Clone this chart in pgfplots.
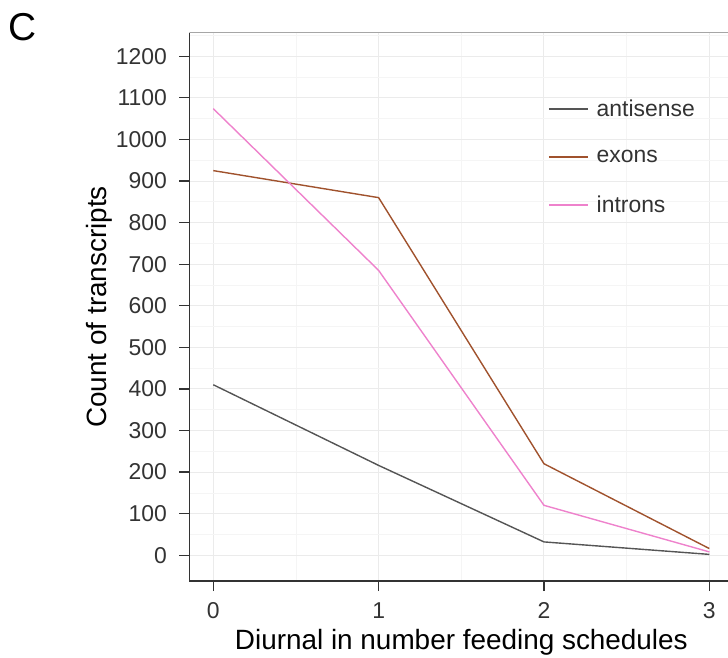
\documentclass[border=0pt]{standalone}
\usepackage{fontspec}
\setmainfont{Liberation Sans}
\usepackage{pgfplots}
\pgfplotsset{compat=1.18}
\definecolor{antis}{HTML}{555555}
\definecolor{exons}{HTML}{A0522D}
\definecolor{introns}{HTML}{EE82CC}
\definecolor{spine}{HTML}{333333}
\definecolor{gridmaj}{HTML}{EBEBEB}
\definecolor{gridmin}{HTML}{F5F5F5}
\definecolor{ticktext}{HTML}{333333}
\begin{document}
\begin{tikzpicture}[x=1bp,y=1bp]
\useasboundingbox (0,0) rectangle (728,658);
\node[font=\fontsize{39}{39}\selectfont, anchor=center, inner sep=0pt] at (23,631) {C};
\begin{axis}[
  at={(189.3bp,77bp)}, anchor=south west,
  scale only axis, width=538.7bp, height=548bp,
  xmin=-0.145, xmax=3.113, ymin=-62, ymax=1256,
  axis x line*=bottom, axis y line*=left,
  axis line style={spine, line width=1.5bp, -},
  xtick={0,1,2,3}, ytick={0,100,...,1200},
  minor xtick={0.5,1.5,2.5}, minor ytick={50,150,...,1250},
  grid=both,
  major grid style={gridmaj, line width=1bp},
  minor grid style={gridmin, line width=0.7bp},
  tick style={spine, line width=1.3bp},
  major tick length=10bp, minor tick length=0pt, tick align=outside,
  /pgf/number format/assume math mode=true,
  /pgf/number format/1000 sep={},
  ticklabel style={font=\fontsize{23}{23}\selectfont, text=ticktext},
  yticklabel style={xshift=-9bp},
  xticklabel style={yshift=-8bp},
  xlabel={Diurnal in number feeding schedules},
  ylabel={Count of transcripts},
  label style={font=\fontsize{28}{28}\selectfont, text=black},
  xlabel style={at={(axis description cs:0.505,-0.1259)}, anchor=base},
  ylabel style={at={(axis description cs:-0.1528,0.5)}, anchor=base, rotate=0},
  legend style={draw=none, fill=none, at={(axis description cs:0.666,0.878)}, anchor=north west,
    font=\fontsize{23}{23}\selectfont, text=ticktext, row sep=32bp, inner sep=0pt,
    nodes={inner sep=0pt}},
  legend cell align=left,
  legend image code/.code={\draw[#1] (0bp,0bp) -- (39bp,0bp);},
  clip=true,
]
\addplot[antis, line width=1.4bp] coordinates {(0,410) (1,216) (2,32) (3,2)};
\addlegendentry{\hspace{8bp}antisense}
\addplot[exons, line width=1.4bp] coordinates {(0,925) (1,860) (2,220) (3,16)};
\addlegendentry{\hspace{8bp}exons}
\addplot[introns, line width=1.4bp] coordinates {(0,1074) (1,685) (2,120) (3,8)};
\addlegendentry{\hspace{8bp}introns}
\draw[gray!70, line width=1bp] (rel axis cs:0,1) -- (rel axis cs:1,1);
\end{axis}
\end{tikzpicture}
\end{document}
